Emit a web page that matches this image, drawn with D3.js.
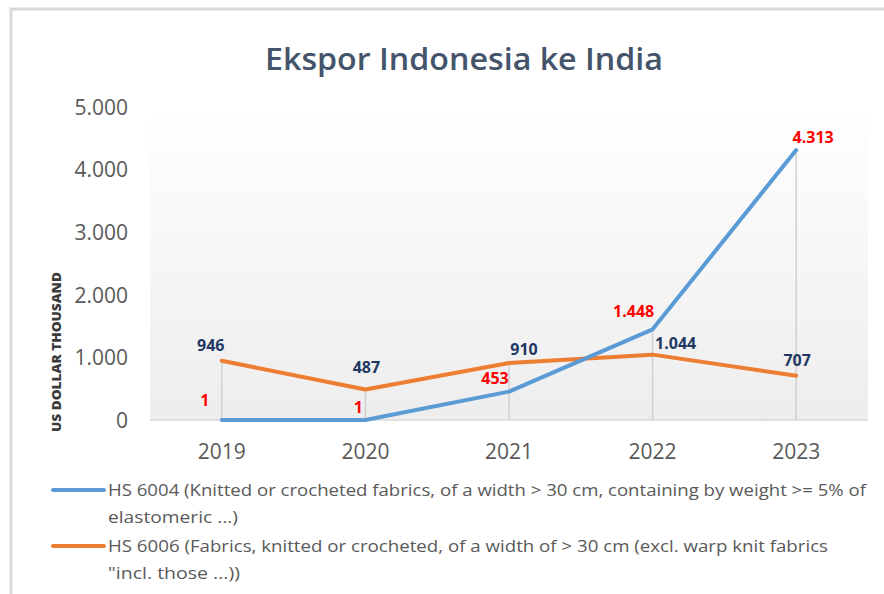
<!DOCTYPE html>
<html>
<head>
<meta charset="utf-8">
<script src="https://cdn.jsdelivr.net/npm/d3@7"></script>
<style>
  html, body { margin: 0; padding: 0; background: #fff; }
  svg { display: block; }
</style>
</head>
<body>
<svg id="chart" width="884" height="594"></svg>
<script>
const categories = ["2019", "2020", "2021", "2022", "2023"];
const hs6004 = [1, 1, 453, 1448, 4313];
const hs6006 = [946, 487, 910, 1044, 707];
const yTicks = [0, 1000, 2000, 3000, 4000, 5000];
const seriesNames = [
  ["HS 6004 (Knitted or crocheted fabrics, of a width > 30 cm, containing by weight >= 5% of", "elastomeric ...)"],
  ["HS 6006 (Fabrics, knitted or crocheted, of a width of > 30 cm (excl. warp knit fabrics", "\"incl. those ...))"]
];
const titleText = "Ekspor Indonesia ke India";
const yTitle = "US DOLLAR THOUSAND";

// label placement offsets (layout, not data)
const offs6004 = [[-17, -14], [-7, -7], [-14, -8], [-19, -12], [17, -7]];
const offs6006 = [[-11, -10], [1, -17], [15, -8], [23, -6], [1, -10]];

const svg = d3.select("#chart");
const fmt = d3.formatLocale({decimal: ",", thousands: ".", grouping: [3], currency: ["", ""]}).format(",d");

// frame
svg.append("rect").attr("x", 11).attr("y", 9).attr("width", 900).attr("height", 620)
  .attr("fill", "#fff").attr("stroke", "#d9d9d9").attr("stroke-width", 3);

const plot = {left: 150, right: 868, top: 107, bottom: 420};

const defs = svg.append("defs");
const grad = defs.append("linearGradient").attr("id", "bg").attr("x1", 0).attr("y1", 0).attr("x2", 0).attr("y2", 1);
grad.append("stop").attr("offset", "0%").attr("stop-color", "#ffffff");
grad.append("stop").attr("offset", "100%").attr("stop-color", "#ededed");

svg.append("rect").attr("x", plot.left).attr("y", plot.top)
  .attr("width", plot.right - plot.left).attr("height", plot.bottom - plot.top)
  .attr("fill", "url(#bg)");

const x = d3.scaleBand().domain(categories).range([plot.left, plot.right]);
const xc = d => x(d) + x.bandwidth() / 2;
const y = d3.scaleLinear().domain([0, 5000]).range([plot.bottom, plot.top]);

// title
svg.append("text").attr("x", 464).attr("y", 70).attr("text-anchor", "middle")
  .attr("font-family", "Open Sans").attr("font-weight", 600).attr("font-size", 30)
  .attr("fill", "#44546a").attr("textLength", 398).attr("lengthAdjust", "spacingAndGlyphs")
  .text(titleText);

// y axis
const yAxis = d3.axisLeft(y).tickValues(yTicks).tickFormat(d => fmt(d)).tickSize(0).tickPadding(0);
const yg = svg.append("g").attr("transform", `translate(128,0)`).call(yAxis);
yg.select(".domain").remove();
yg.selectAll("text").attr("font-family", "Open Sans").attr("font-size", 21).attr("fill", "#595959")
  .attr("dy", "0.35em");

// x axis
const xAxis = d3.axisBottom(x).tickSize(0).tickPadding(0);
const xg = svg.append("g").attr("transform", `translate(0,${plot.bottom})`).call(xAxis);
xg.select(".domain").remove();
xg.selectAll("text").attr("font-family", "Open Sans").attr("font-size", 21).attr("fill", "#595959")
  .attr("dy", "0").attr("y", 39);

// baseline
svg.append("line").attr("x1", plot.left).attr("x2", plot.right)
  .attr("y1", y(0)).attr("y2", y(0)).attr("stroke", "#d9d9d9").attr("stroke-width", 1.5);

// drop lines
svg.append("g").selectAll("line").data(categories).join("line")
  .attr("x1", d => xc(d)).attr("x2", d => xc(d))
  .attr("y1", (d, i) => y(Math.max(hs6004[i], hs6006[i]))).attr("y2", y(0))
  .attr("stroke", "#d0d0d0").attr("stroke-width", 1.5);

// y title
svg.append("text").attr("transform", "translate(61,352) rotate(-90)")
  .attr("text-anchor", "middle").attr("font-family", "Open Sans").attr("font-weight", 800)
  .attr("font-size", 13).attr("fill", "#3a3a3a")
  .attr("textLength", 160).attr("lengthAdjust", "spacingAndGlyphs").text(yTitle);

const line = d3.line().x((d, i) => xc(categories[i])).y(d => y(d));

svg.append("path").datum(hs6006).attr("d", line).attr("fill", "none")
  .attr("stroke", "#ed7d31").attr("stroke-width", 4).attr("stroke-linejoin", "round").attr("stroke-linecap", "round");
svg.append("path").datum(hs6004).attr("d", line).attr("fill", "none")
  .attr("stroke", "#5b9bd5").attr("stroke-width", 4).attr("stroke-linejoin", "round").attr("stroke-linecap", "round");

// labels
function labels(values, offs, color) {
  svg.append("g").selectAll("text").data(values).join("text")
    .attr("x", (d, i) => xc(categories[i]) + offs[i][0])
    .attr("y", (d, i) => y(d) + offs[i][1])
    .attr("text-anchor", "middle").attr("font-family", "Open Sans").attr("font-weight", 700)
    .attr("font-size", 16).attr("fill", color).text(d => fmt(d));
}
labels(hs6006, offs6006, "#1f3864");
labels(hs6004, offs6004, "#ff0000");

// legend
const legColors = ["#5b9bd5", "#ed7d31"];
const legY = [490, 546];
const legLens = [[758, 130], [720, 132]];
seriesNames.forEach((lines, k) => {
  svg.append("line").attr("x1", 53).attr("x2", 104).attr("y1", legY[k]).attr("y2", legY[k])
    .attr("stroke", legColors[k]).attr("stroke-width", 4).attr("stroke-linecap", "round");
  lines.forEach((t, j) => {
    svg.append("text").attr("x", 108).attr("y", legY[k] + 6 + j * 27)
      .attr("font-family", "Open Sans").attr("font-size", 17).attr("fill", "#595959")
      .attr("textLength", legLens[k][j]).attr("lengthAdjust", "spacingAndGlyphs")
      .text(t);
  });
});
</script>
</body>
</html>
